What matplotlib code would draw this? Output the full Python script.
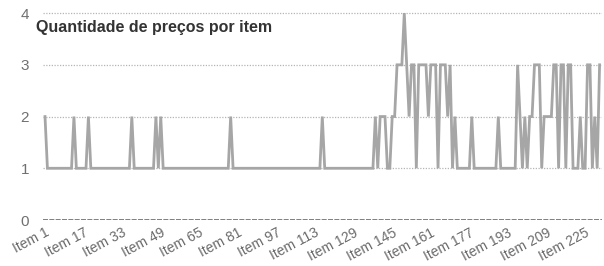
import matplotlib
matplotlib.use("Agg")
import matplotlib.pyplot as plt

title = "Quantidade de preços por item"

# values per item (Item 1 .. Item 231)
values = (
    [2] + [1] * 11 +            # 1-12
    [2] + [1] * 5 +             # 13-18
    [2] + [1] * 17 +            # 19-36
    [2] + [1] * 9 +             # 37-46
    [2, 1, 2] + [1] * 28 +      # 47-77
    [2] + [1] * 37 +            # 78-115
    [2] + [1] * 21 +            # 116-137
    [2, 1, 2, 2, 2, 1, 1, 2, 2, 3, 3, 3, 4, 3, 2, 3, 3,   # 138-154
     1, 3, 3, 3, 3, 2, 3, 3, 3, 1, 3, 3, 3, 2, 3, 1, 2,   # 155-171
     1, 1, 1, 1, 1, 1, 2, 1, 1, 1, 1, 1, 1, 1, 1, 1, 1,   # 172-188
     2, 1, 1, 1, 1, 1, 1, 1, 3, 2, 1, 2, 1, 2, 2, 3, 3,   # 189-205
     3, 1, 2, 2, 2, 2, 3, 3, 1, 3, 3, 1, 3, 3, 1, 1, 1,   # 206-222
     2, 1, 1, 3, 3, 1, 2, 1, 3]                           # 223-231
)
items = list(range(1, len(values) + 1))
tick_items = list(range(1, 226, 16))
tick_labels = [f"Item {i}" for i in tick_items]
y_ticks = [0, 1, 2, 3, 4]

plt.rcParams['font.family'] = ['Liberation Sans', 'DejaVu Sans']

fig = plt.figure(figsize=(6.04, 2.66), dpi=100)
ax = fig.add_axes([42.6 / 604, 1 - 220 / 266, (602 - 42.6) / 604, (220 - 10) / 266])

ax.plot(items, values, color='#a6a6a6', lw=2.0, solid_joinstyle='miter')

ax.set_xlim(0, len(values) + 1)
ax.set_ylim(0, 4.06)
ax.set_yticks(y_ticks)
ax.set_yticklabels([str(v) for v in y_ticks], color='#707070', fontsize=11)
ax.set_xticks(tick_items)
ax.set_xticklabels(tick_labels, rotation=28, ha='right', va='top',
                   rotation_mode='anchor', color='#6a6a6a', fontsize=10)
ax.tick_params(axis='both', length=0)
ax.tick_params(axis='x', pad=4)
ax.tick_params(axis='y', pad=16)
for lab in ax.get_yticklabels():
    lab.set_horizontalalignment('left')

for v in y_ticks[1:]:
    ax.axhline(v, color='#b5b5b5', lw=0.9, ls=(0, (1, 1.2)), zorder=0)
ax.axhline(0, color='#6a6a6a', lw=1.2, ls=(0, (3, 0.8)), zorder=0)

for s in ax.spines.values():
    s.set_visible(False)

fig.text(36 / 604, 0.895, title, fontsize=11.5,
         fontweight='bold', color='#333333', va='center', ha='left')

fig.savefig("out.png", dpi=100)
